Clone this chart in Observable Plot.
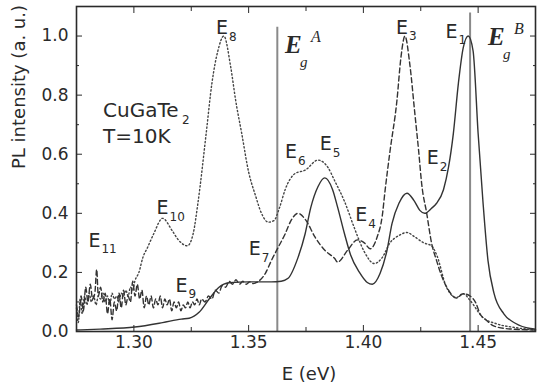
<!DOCTYPE html>
<html><head><meta charset="utf-8">
<script src="https://cdn.jsdelivr.net/npm/d3@7"></script>
<script src="https://cdn.jsdelivr.net/npm/@observablehq/plot@0.6"></script>
<style>body{margin:0;background:#fff;} svg{display:block}</style>
</head><body><div id="chart"></div>
<script>
// Solid spectrum
const solidE = [1.2750,1.2853,1.3004,1.3125,1.3207,1.3241,1.3284,1.3328,1.3371,1.3414,1.3500,1.3599,1.3642,1.3672,1.3715,1.3746,1.3771,1.3802,1.3832,1.3866,1.3888,1.3918,1.3944,1.3983,1.4017,1.4039,1.4073,1.4103,1.4125,1.4155,1.4190,1.4220,1.4246,1.4267,1.4297,1.4319,1.4349,1.4371,1.4392,1.4414,1.4435,1.4457,1.4478,1.4500,1.4521,1.4543,1.4569,1.4612,1.4664,1.4728,1.4750];
const solidI = [0.005,0.008,0.015,0.030,0.042,0.045,0.065,0.11,0.15,0.165,0.168,0.168,0.17,0.18,0.25,0.33,0.42,0.49,0.52,0.48,0.42,0.33,0.26,0.20,0.166,0.160,0.197,0.275,0.366,0.434,0.468,0.444,0.41,0.40,0.417,0.434,0.48,0.556,0.67,0.84,0.96,1.0,0.95,0.67,0.44,0.24,0.13,0.06,0.027,0.01,0.008];
// Dashed spectrum
const dashE = [1.2750,1.2760,1.2770,1.2780,1.2790,1.2800,1.2810,1.2820,1.2830,1.2838,1.2845,1.2855,1.2865,1.2875,1.2885,1.2895,1.2905,1.2915,1.2925,1.2935,1.2945,1.2955,1.2965,1.2975,1.2985,1.2995,1.3005,1.3015,1.3025,1.3035,1.3045,1.3055,1.3065,1.3075,1.3085,1.3095,1.3105,1.3115,1.3125,1.3135,1.3145,1.3155,1.3165,1.3175,1.3185,1.3195,1.3205,1.3215,1.3225,1.3235,1.3245,1.3255,1.3265,1.3275,1.3285,1.3295,1.3310,1.3325,1.3340,1.3355,1.3370,1.3385,1.3400,1.3415,1.3430,1.3445,1.3460,1.3475,1.3490,1.3505,1.3520,1.3535,1.3573,1.3599,1.3629,1.3659,1.3685,1.3715,1.3750,1.3789,1.3832,1.3875,1.3888,1.3931,1.3974,1.4004,1.4030,1.4060,1.4082,1.4095,1.4116,1.4146,1.4164,1.4181,1.4203,1.4224,1.4241,1.4254,1.4276,1.4297,1.4319,1.4340,1.4371,1.4405,1.4435,1.4465,1.4491,1.4508,1.4534,1.4565,1.4620,1.4750];
const dashI = [0.09,0.05,0.12,0.07,0.15,0.10,0.16,0.11,0.13,0.21,0.12,0.15,0.10,0.13,0.06,0.11,0.04,0.10,0.07,0.13,0.08,0.14,0.09,0.12,0.10,0.17,0.12,0.16,0.11,0.14,0.08,0.12,0.09,0.12,0.08,0.11,0.09,0.12,0.08,0.11,0.09,0.11,0.07,0.10,0.08,0.10,0.07,0.09,0.08,0.10,0.08,0.10,0.09,0.11,0.09,0.11,0.10,0.12,0.11,0.14,0.13,0.155,0.15,0.17,0.16,0.175,0.16,0.17,0.16,0.168,0.162,0.166,0.197,0.24,0.285,0.33,0.376,0.40,0.376,0.32,0.275,0.247,0.235,0.275,0.31,0.30,0.28,0.32,0.39,0.48,0.61,0.78,0.93,1.0,0.90,0.74,0.61,0.50,0.40,0.30,0.24,0.19,0.14,0.113,0.128,0.12,0.095,0.06,0.04,0.02,0.01,0.005];
// Dotted spectrum
const dotE = [1.2750,1.2758,1.2766,1.2775,1.2785,1.2795,1.2805,1.2815,1.2825,1.2835,1.2845,1.2855,1.2865,1.2875,1.2885,1.2895,1.2905,1.2915,1.2925,1.2935,1.2945,1.2955,1.2965,1.2975,1.2985,1.2995,1.3004,1.3022,1.3039,1.3060,1.3086,1.3125,1.3168,1.3194,1.3233,1.3258,1.3280,1.3315,1.3340,1.3366,1.3392,1.3422,1.3444,1.3470,1.3500,1.3530,1.3556,1.3586,1.3610,1.3635,1.3659,1.3703,1.3746,1.3802,1.3845,1.3875,1.3918,1.3961,1.4004,1.4047,1.4082,1.4116,1.4155,1.4190,1.4224,1.4263,1.4297,1.4319,1.4362,1.4405,1.4435,1.4465,1.4521,1.4577,1.4664,1.4750];
const dotI = [0.08,0.03,0.11,0.06,0.12,0.09,0.13,0.10,0.12,0.09,0.12,0.11,0.13,0.10,0.12,0.09,0.13,0.11,0.12,0.10,0.13,0.12,0.14,0.12,0.15,0.14,0.17,0.20,0.25,0.285,0.33,0.383,0.34,0.31,0.29,0.33,0.44,0.67,0.84,0.95,1.0,0.895,0.78,0.67,0.54,0.46,0.40,0.37,0.375,0.42,0.48,0.535,0.546,0.58,0.556,0.51,0.44,0.35,0.27,0.23,0.25,0.30,0.325,0.335,0.32,0.30,0.29,0.26,0.15,0.115,0.128,0.105,0.047,0.027,0.013,0.005];

// Peak labels
const peakSub = ["8","3","1","2","6","5","4","7","9","10","11"];
const peakE = [1.3358,1.4142,1.4358,1.4276,1.3659,1.3810,1.3965,1.3500,1.3181,1.3099,1.2802];
const peakI = [1.027,1.029,1.015,0.586,0.607,0.634,0.393,0.278,0.156,0.417,0.308];

// Band gap lines
const gapNames = ["A","B"];
const gapE = [1.3625,1.4465];
const gapTop = [1.03,1.078];
const gapLabelE = [1.3659,1.4543];
const gapLabelI = [0.9695,0.9966];

const xMajor = [1.30,1.35,1.40,1.45];
const xMinor = [1.275,1.325,1.375,1.425,1.475];
const yMajor = [0.0,0.2,0.4,0.6,0.8,1.0];
const yMinor = [0.1,0.3,0.5,0.7,0.9];

const toRows = (E, I) => E.map((e, i) => ({e, v: I[i]}));
const solid = toRows(solidE, solidI);
const dashed = toRows(dashE, dashI);
const dotted = toRows(dotE, dotI);
const peaks = peakSub.map((s, i) => ({s, e: peakE[i], v: peakI[i]}));
const gaps = gapNames.map((n, i) => ({n, e: gapE[i], top: gapTop[i], le: gapLabelE[i], lv: gapLabelI[i]}));

const ink = "#2a2a2a";
const chart = Plot.plot({
  width: 537, height: 388,
  marginLeft: 76, marginRight: 2, marginTop: 6, marginBottom: 57,
  x: {domain: [1.275, 1.475]},
  y: {domain: [0, 1.1]},
  style: {fontFamily: "DejaVu Sans", fontSize: "17px", color: ink, background: "white"},
  marks: [
    Plot.ruleX(gaps, {x: "e", y1: 0, y2: "top", stroke: "#8a8a8a", strokeWidth: 2}),
    Plot.line(dotted, {x: "e", y: "v", curve: "monotone-x", stroke: "#444", strokeWidth: 1.4, strokeDasharray: "1.3,2.4"}),
    Plot.line(dashed, {x: "e", y: "v", curve: "monotone-x", stroke: "#333", strokeWidth: 1.4, strokeDasharray: "5,3"}),
    Plot.line(solid, {x: "e", y: "v", curve: "monotone-x", stroke: "#333", strokeWidth: 1.4}),
    Plot.frame({stroke: ink, strokeWidth: 1.6}),
    Plot.axisX(xMajor, {anchor: "bottom", tickSize: -6, tickPadding: 10, tickFormat: d => d.toFixed(2), label: null, fontSize: 17}),
    Plot.axisX(xMinor, {anchor: "bottom", tickSize: -4, fill: "none", label: null}),
    Plot.axisX(xMajor, {anchor: "top", tickSize: -6, fill: "none", label: null}),
    Plot.axisX(xMinor, {anchor: "top", tickSize: -4, fill: "none", label: null}),
    Plot.axisY(yMajor, {anchor: "left", tickSize: -6, tickPadding: 14, tickFormat: d => d.toFixed(1), label: null, fontSize: 17}),
    Plot.axisY(yMinor, {anchor: "left", tickSize: -3, fill: "none", label: null}),
    Plot.axisY(yMajor, {anchor: "right", tickSize: -6, fill: "none", label: null}),
    Plot.axisY(yMinor, {anchor: "right", tickSize: -3, fill: "none", label: null}),
    Plot.text(["E (eV)"], {frameAnchor: "bottom", dy: 43, lineAnchor: "middle", fontSize: 18, dx: 3}),
    Plot.text(["PL intensity (a. u.)"], {frameAnchor: "left", rotate: -90, dx: -57, lineAnchor: "middle", fontSize: 18}),
    Plot.text(peaks, {x: "e", y: "v", text: () => "E", textAnchor: "start", lineAnchor: "middle", fontSize: 19}),
    Plot.text(peaks, {x: "e", y: "v", text: "s", textAnchor: "start", lineAnchor: "middle", fontSize: 12, dx: 13, dy: 9}),
    Plot.text(["CuGaTe"], {x: 1.2866, y: 0.746, textAnchor: "start", lineAnchor: "middle", fontSize: 20}),
    Plot.text(["2"], {x: 1.2866, y: 0.746, textAnchor: "start", lineAnchor: "middle", fontSize: 12, dx: 79, dy: 9}),
    Plot.text(["T=10K"], {x: 1.2866, y: 0.658, textAnchor: "start", lineAnchor: "middle", fontSize: 20}),
    Plot.text(gaps, {x: "le", y: "lv", text: () => "E", textAnchor: "start", lineAnchor: "middle", fontFamily: "Liberation Serif", fontStyle: "italic", fontWeight: "bold", fontSize: 25}),
    Plot.text(gaps, {x: "le", y: "lv", text: () => "g", textAnchor: "start", lineAnchor: "middle", fontFamily: "Liberation Serif", fontStyle: "italic", fontSize: 15, dx: 15, dy: 17}),
    Plot.text(gaps, {x: "le", y: "lv", text: "n", textAnchor: "start", lineAnchor: "middle", fontFamily: "Liberation Serif", fontStyle: "italic", fontSize: 16, dx: 26, dy: -8})
  ]
});
document.getElementById("chart").appendChild(chart);
</script>
</body></html>
